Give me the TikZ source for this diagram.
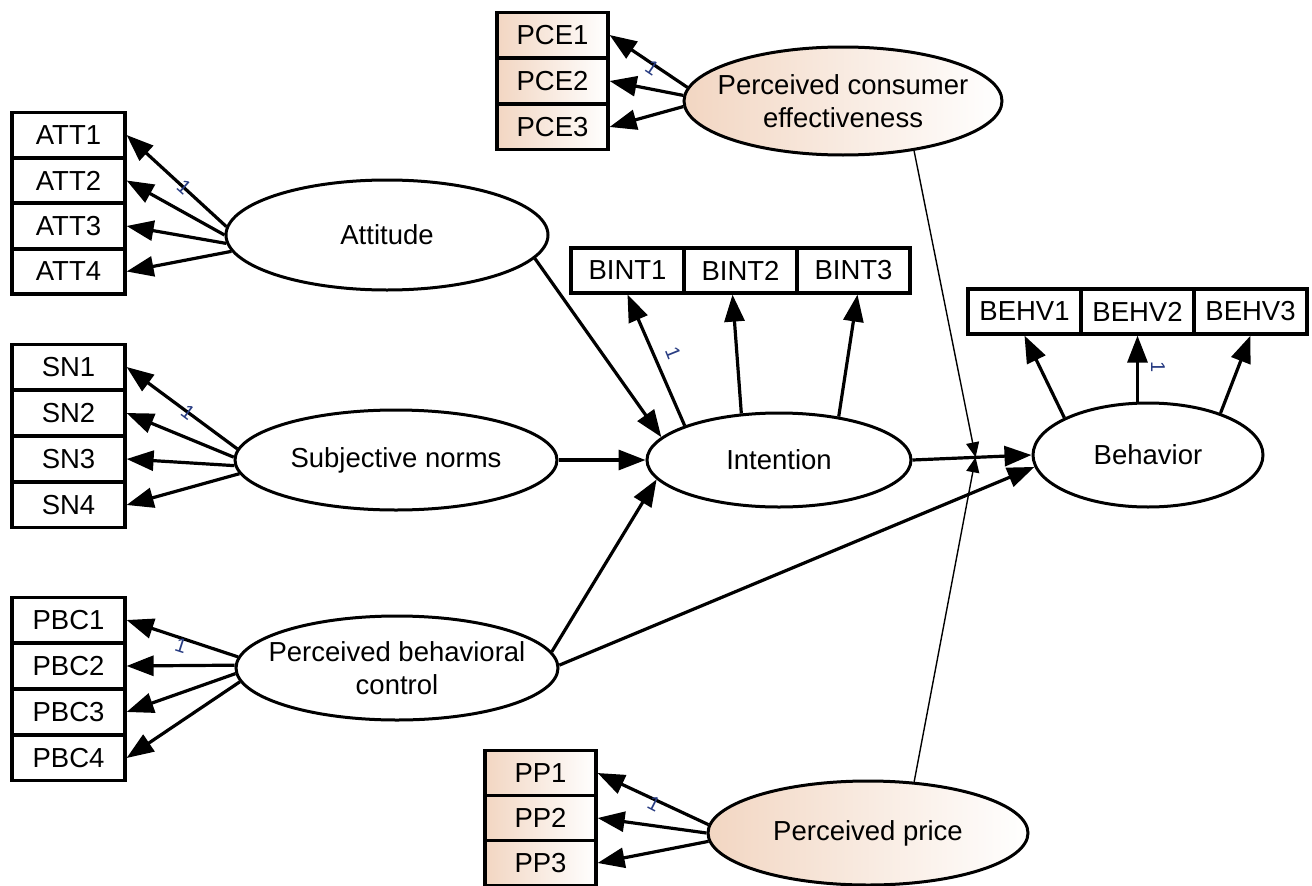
\documentclass[tikz,border=0pt]{standalone}
\usepackage{fontspec}
\setmainfont{Liberation Sans}
\usetikzlibrary{shapes.geometric,arrows.meta,calc}
\definecolor{peach}{RGB}{242,214,194}
\definecolor{loadc}{RGB}{40,60,130}
\newcommand{\zw}[1]{\makebox[0pt]{#1}}

\begin{document}
\begin{tikzpicture}[x=1pt,y=-1pt,
  every node/.style={font=\fontsize{27.5}{33}\selectfont},
  ind/.style={draw, line width=3.2pt, rectangle, minimum width=113pt, minimum height=45pt, inner sep=0pt, fill=white},
  indx/.style={ind, minimum width=111pt, left color=peach, right color=white},
  lat/.style={draw, ellipse, line width=3pt, inner sep=0pt, fill=white, align=center},
  latx/.style={lat, left color=peach, right color=white},
  link/.style={line width=3.2pt, -{Triangle[length=27pt,width=20pt]}},
  modl/.style={line width=1.4pt, -{Triangle[length=15pt,width=13pt]}},
  one/.style={font=\fontsize{20}{20}\selectfont, text=loadc, inner sep=0pt}
]
\useasboundingbox (0,0) rectangle (1312,886);

% observed indicators
\node[ind] (att1) at (68.5,135) {ATT1};
\node[ind] (att2) at (68.5,180.5) {ATT2};
\node[ind] (att3) at (68.5,226) {ATT3};
\node[ind] (att4) at (68.5,271.5) {ATT4};

\node[ind] (sn1) at (68.5,367) {SN1};
\node[ind] (sn2) at (68.5,413) {SN2};
\node[ind] (sn3) at (68.5,459) {SN3};
\node[ind] (sn4) at (68.5,505) {SN4};

\node[ind] (pbc1) at (68.5,620) {PBC1};
\node[ind] (pbc2) at (68.5,666) {PBC2};
\node[ind] (pbc3) at (68.5,712) {PBC3};
\node[ind] (pbc4) at (68.5,758) {PBC4};

\node[indx] (pce1) at (552.5,35) {PCE1};
\node[indx] (pce2) at (552.5,81) {PCE2};
\node[indx] (pce3) at (552.5,127) {PCE3};

\node[indx] (pp1) at (540.5,773) {PP1};
\node[indx] (pp2) at (540.5,818) {PP2};
\node[indx] (pp3) at (540.5,863) {PP3};

\node[ind] (bint1) at (627.5,270.5) {BINT1};
\node[ind] (bint2) at (740.5,270.5) {BINT2};
\node[ind] (bint3) at (853.5,270.5) {BINT3};

\node[ind] (behv1) at (1024.5,311.5) {BEHV1};
\node[ind] (behv2) at (1137.5,311.5) {BEHV2};
\node[ind] (behv3) at (1250.5,311.5) {BEHV3};

% latent constructs
\node[latx, minimum width=318pt, minimum height=108pt] (pce) at (843,101) {\zw{Perceived consumer}\\\zw{effectiveness}};
\node[lat, minimum width=322pt, minimum height=110pt] (att) at (387,235) {Attitude};
\node[lat, minimum width=322pt, minimum height=100pt] (sn) at (396,460) {Subjective norms};
\node[lat, minimum width=264pt, minimum height=94pt] (int) at (779,460) {Intention};
\node[lat, minimum width=230pt, minimum height=104pt] (beh) at (1148,455) {Behavior};
\node[lat, minimum width=322pt, minimum height=104pt] (pbc) at (397,668) {\zw{Perceived behavioral}\\\zw{control}};
\node[latx, minimum width=320pt, minimum height=104pt] (pp) at (868,833) {Perceived price};

% measurement paths
\draw[link] (att.177) -- (att1.east);
\draw[link] (att.180) -- (att2.east);
\draw[link] (att.183) -- (att3.east);
\draw[link] (att.186) -- (att4.east);

\draw[link] (sn.176) -- (sn1.east);
\draw[link] (sn.179) -- (sn2.east);
\draw[link] (sn.182) -- (sn3.east);
\draw[link] (sn.185) -- (sn4.east);

\draw[link] (pbc.176) -- (pbc1.east);
\draw[link] (pbc.179) -- (pbc2.east);
\draw[link] (pbc.182) -- (pbc3.east);
\draw[link] (pbc.185) -- (pbc4.east);

\draw[link] (pce.175) -- (pce1.east);
\draw[link] (pce.178.5) -- (pce2.east);
\draw[link] (pce.182) -- (pce3.east);

\draw[link] (pp.177.5) -- (pp1.east);
\draw[link] (pp.180.5) -- (pp2.east);
\draw[link] (pp.183.5) -- (pp3.east);

\draw[link] (int.160) -- (bint1.south);
\draw[link] (int.129) -- ($(bint2.south)+(-8,0)$);
\draw[link] (int.36) -- ($(bint3.south)+(4,0)$);

\draw[link] (beh.156) -- (behv1.south);
\draw[link] (beh.north -| behv2.south) -- (behv2.south);
\draw[link] (beh.30) -- (behv3.south);

% structural paths
\draw[link] (att.-9) -- (int.169);
\draw[link] (sn.east) -- (int.west);
\draw[link] (pbc.6) -- (int.189);
\draw[link] (pbc.1) -- (beh.186);
\draw[link] (int.east) -- (beh.west);

% moderating effects on the intention-behaviour path
\coordinate (m) at ($(int.east)!0.53!(beh.west)$);
\draw[modl] (pce.-35) -- (m);
\draw[modl] (pp.48) -- (m);

% fixed loadings
\node[one, rotate=-42] (w1) at (184,187) {1};
\node[one, rotate=-37] (w2) at (188,412) {1};
\node[one, rotate=-18] (w3) at (181,646) {1};
\node[one, rotate=-34] (w4) at (652,68) {1};
\node[one, rotate=-27] (w5) at (654,804) {1};
\node[one, rotate=-68] (w6) at (673,353) {1};
\node[one, rotate=-90] (w7) at (1158,367) {1};
\end{tikzpicture}
\end{document}
